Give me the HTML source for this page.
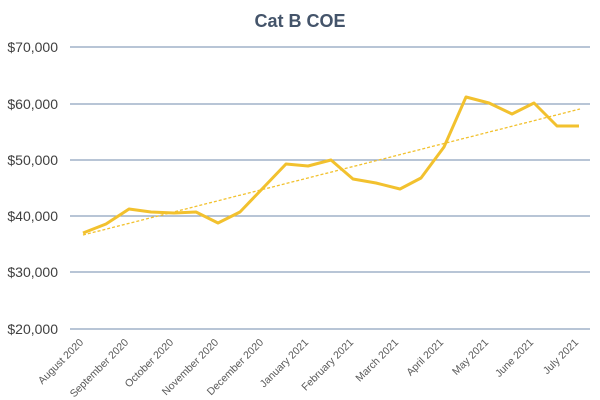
<!DOCTYPE html>
<html><head><style>body{margin:0;background:#fff}svg{display:block}</style></head><body>
<svg width="600" height="400" xmlns="http://www.w3.org/2000/svg" font-family="Liberation Sans, sans-serif">
<rect width="600" height="400" fill="#fff"/>
<text x="300" y="27" text-anchor="middle" font-size="18" font-weight="bold" fill="#44546a">Cat B COE</text>
<g stroke="#8ea2bd" stroke-width="1.3">
<line x1="70" x2="590" y1="47" y2="47"/><line x1="70" x2="590" y1="104" y2="104"/>
<line x1="70" x2="590" y1="160" y2="160"/><line x1="70" x2="590" y1="216" y2="216"/>
<line x1="70" x2="590" y1="272" y2="272"/><line x1="70" x2="590" y1="329" y2="329"/>
</g>
<g font-size="14" fill="#404040" text-anchor="end">
<text x="58" y="52">$70,000</text><text x="58" y="109">$60,000</text><text x="58" y="165">$50,000</text>
<text x="58" y="221">$40,000</text><text x="58" y="277">$30,000</text><text x="58" y="334">$20,000</text>
</g>
<g font-size="10.5" fill="#595959" text-anchor="end">
<text transform="translate(84,343) rotate(-45)">August 2020</text>
<text transform="translate(129,343) rotate(-45)">September 2020</text>
<text transform="translate(174,343) rotate(-45)">October 2020</text>
<text transform="translate(219,343) rotate(-45)">November 2020</text>
<text transform="translate(264,343) rotate(-45)">December 2020</text>
<text transform="translate(309,343) rotate(-45)">January 2021</text>
<text transform="translate(354,343) rotate(-45)">February 2021</text>
<text transform="translate(399,343) rotate(-45)">March 2021</text>
<text transform="translate(444,343) rotate(-45)">April 2021</text>
<text transform="translate(489,343) rotate(-45)">May 2021</text>
<text transform="translate(534,343) rotate(-45)">June 2021</text>
<text transform="translate(579,343) rotate(-45)">July 2021</text>
</g>
<line x1="83" y1="235" x2="580" y2="109" stroke="#f2c12e" stroke-width="1.3" stroke-dasharray="3,2"/>
<polyline fill="none" stroke="#f2c12e" stroke-width="3" stroke-linejoin="round" points="83,233 106,224 129,209 151,212 174,213 196,212 218,223 240,212 263,188 286,164 308,166 331,160 353,179 376,183 400,189 421,178 444,147 466,97 489,103 512,114 534,103 557,126 579,126"/>
</svg>
</body></html>
